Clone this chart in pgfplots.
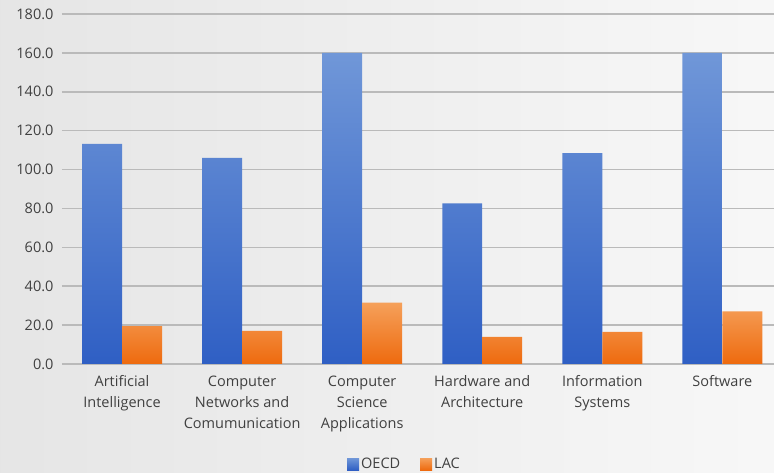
\documentclass[border=0pt]{standalone}
\usepackage{pgfplots}
\pgfplotsset{compat=1.18}
\usepackage{fontspec}
\setmainfont{Open Sans}
\definecolor{txt}{HTML}{404040}
\definecolor{gridc}{HTML}{BABABA}
\definecolor{oecdtop}{HTML}{7097D8}
\definecolor{oecdbot}{HTML}{2F5FC4}
\definecolor{lactop}{HTML}{F5A05A}
\definecolor{lacbot}{HTML}{EE6A0E}
\begin{document}
\begin{tikzpicture}
% background and bounding box
\shade[left color=black!10, right color=black!3, use as bounding box]
  (-62pt,-109pt) rectangle (712pt,364pt);
\begin{axis}[
    at={(0pt,0pt)}, anchor=south west,
    scale only axis,
    width=712pt, height=350pt,
    ybar=0pt, bar width=0.333,
    xmin=-0.5, xmax=5.43,
    ymin=0, ymax=180,
    ytick={0,20,...,180},
    xtick={0,1,2,3,4,5},
    xticklabels={{Artificial\\Intelligence},
                 {Computer\\Networks and\\Comumunication},
                 {Computer\\Science\\Applications},
                 {Hardware and\\Architecture},
                 {Information\\Systems},
                 {Software}},
    xticklabel style={align=center, font=\fontsize{14.5}{21}\selectfont, text=txt, yshift=-8pt},
    yticklabel style={font=\fontsize{14.5}{16}\selectfont, text=txt, xshift=-5pt},
    /pgf/number format/assume math mode=true,
    yticklabel={\pgfmathprintnumber[fixed, fixed zerofill, precision=1]{\tick}},
    major tick length=0pt,
    axis line style={draw=none},
    ymajorgrids=true,
    grid style={gridc, line width=1.6pt},
    clip=false,
    legend style={at={(0.481,-0.286)}, anchor=center, draw=none, fill=none,
        legend columns=2, font=\fontsize{14.5}{16}\selectfont, text=txt,
        /tikz/every even column/.append style={column sep=18pt}},
    legend image code/.code={\fill[#1] (0pt,-6pt) rectangle (12pt,6pt);},
]
\addplot[draw=none, top color=oecdtop, bottom color=oecdbot] coordinates {
    (0,113.2) (1,106.0) (2,160.0) (3,82.6) (4,108.4) (5,160.0)
};
\addlegendentry{OECD}
\addplot[draw=none, top color=lactop, bottom color=lacbot] coordinates {
    (0,19.5) (1,17.0) (2,31.5) (3,14.0) (4,16.5) (5,27.0)
};
\addlegendentry{LAC}
\end{axis}
\end{tikzpicture}
\end{document}
